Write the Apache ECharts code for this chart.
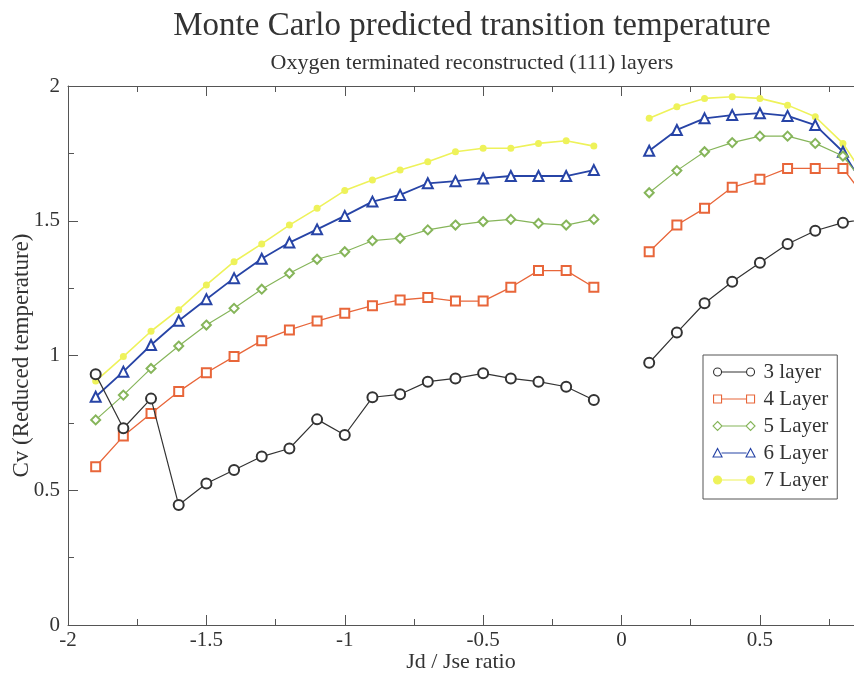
<!DOCTYPE html>
<html>
<head>
<meta charset="utf-8">
<script src="https://cdn.jsdelivr.net/npm/echarts@6/dist/echarts.min.js"></script>
<style>
html,body{margin:0;padding:0;background:#fff;}
#c{width:854px;height:677px;}
</style>
</head>
<body>
<div id="c"></div>
<script>
// ---- data ----
const xValues = [-1.9,-1.8,-1.7,-1.6,-1.5,-1.4,-1.3,-1.2,-1.1,-1.0,-0.9,-0.8,-0.7,-0.6,-0.5,-0.4,-0.3,-0.2,-0.1,
                 0.0,
                 0.1,0.2,0.3,0.4,0.5,0.6,0.7,0.8,0.9];
const seriesNames = ['3 layer','4 Layer','5 Layer','6 Layer','7 Layer'];
const layer3 = [0.93,0.73,0.84,0.445,0.525,0.575,0.625,0.655,0.763,0.705,0.845,0.856,0.903,0.915,0.934,0.915,0.903,0.884,0.835,
                null,
                0.973,1.085,1.194,1.274,1.344,1.414,1.463,1.493,1.51];
const layer4 = [0.587,0.701,0.785,0.866,0.936,0.996,1.055,1.095,1.128,1.157,1.185,1.206,1.215,1.202,1.202,1.253,1.315,1.315,1.253,
                null,
                1.385,1.484,1.546,1.624,1.654,1.694,1.694,1.694,1.56];
const layer5 = [0.761,0.853,0.952,1.035,1.113,1.175,1.246,1.305,1.357,1.385,1.426,1.435,1.466,1.484,1.497,1.505,1.49,1.484,1.505,
                null,
                1.604,1.686,1.756,1.79,1.814,1.814,1.787,1.74,1.61];
const layer6 = [0.847,0.94,1.039,1.129,1.209,1.287,1.359,1.419,1.468,1.518,1.571,1.596,1.639,1.647,1.657,1.666,1.666,1.666,1.688,
                null,
                1.76,1.837,1.88,1.892,1.899,1.889,1.855,1.756,1.59];
const layer7 = [0.905,0.996,1.09,1.17,1.262,1.348,1.414,1.484,1.546,1.612,1.651,1.688,1.719,1.756,1.769,1.769,1.787,1.797,1.777,
                null,
                1.88,1.923,1.954,1.96,1.954,1.929,1.886,1.787,1.63];
const xTitle = 'Jd / Jse ratio';
const yTitle = 'Cv (Reduced temperature)';
const mainTitle = 'Monte Carlo predicted transition temperature';
const subTitle = 'Oxygen terminated reconstructed (111) layers';

// ---- styles ----
const FONT = '"Liberation Serif","DejaVu Serif",serif';
const colors = ['#333333','#e8663a','#86b55a','#2744a6','#eef25a'];
const symbols = ['emptyCircle','emptyRect','emptyDiamond','emptyTriangle','circle'];
const symbolSizes = [10,9,9,10,7];
const lineWidths = [1.2,1.3,1.2,1.8,1.6];

const circ = (cx) => `M${cx-4},5 A4,4 0 1,1 ${cx+4},5 A4,4 0 1,1 ${cx-4},5 Z`;
const rectP = (cx) => `M${cx-4},1 L${cx+4},1 L${cx+4},9 L${cx-4},9 Z`;
const diam = (cx) => `M${cx},0.5 L${cx+4.5},5 L${cx},9.5 L${cx-4.5},5 Z`;
const tri = (cx) => `M${cx},0.5 L${cx+4.5},9 L${cx-4.5},9 Z`;
const shapes = [circ, rectP, diam, tri, circ];
function iconPath(i){
  const s = shapes[i];
  return 'path://' + 'M0,0 M43,10 ' + s(5) + ' M9,5 L34,5 ' + s(38);
}

const allData = [layer3, layer4, layer5, layer6, layer7];
const series = allData.map((ys, i) => ({
  name: seriesNames[i],
  type: 'line',
  data: xValues.map((x, k) => [x, ys[k] === null ? '-' : ys[k]]),
  connectNulls: false,
  symbol: symbols[i],
  symbolSize: symbolSizes[i],
  showAllSymbol: true,
  clip: true,
  z: 10 - i,
  lineStyle: {color: colors[i], width: lineWidths[i]},
  itemStyle: {color: colors[i], borderColor: colors[i], borderWidth: i===4 ? 0 : 1.2},
  emphasis: {disabled: true},
  animation: false
}));

const legendData = seriesNames.map((n, i) => ({
  name: n,
  icon: iconPath(i),
  itemStyle: {color: i===4 ? colors[i] : '#ffffff', borderColor: colors[i], borderWidth: 1.1}
}));

const axisCommon = {
  type: 'value',
  axisLine: {show: true, onZero: false, lineStyle: {color: '#555', width: 1}},
  axisTick: {show: true, inside: true, length: 10, lineStyle: {color: '#555'}},
  minorTick: {show: true, splitNumber: 2, length: 6, lineStyle: {color: '#555'}},
  splitLine: {show: false},
  minorSplitLine: {show: false}
};

const chart = echarts.init(document.getElementById('c'), null, {renderer: 'canvas'});
chart.setOption({
  animation: false,
  backgroundColor: '#ffffff',
  title: [{
    text: mainTitle,
    left: 467, top: 5, textAlign: 'center',
    textStyle: {fontFamily: FONT, fontSize: 33, fontWeight: 'normal', color: '#333'},
  }, {
    text: subTitle,
    left: 467, top: 47, textAlign: 'center',
    textStyle: {fontFamily: FONT, fontSize: 22, fontWeight: 'normal', color: '#333'}
  }],
  grid: {left: 68, right: 0, top: 86, bottom: 52, containLabel: false, outerBoundsMode: 'none'},
  legend: {
    orient: 'vertical',
    left: 703, top: 355,
    padding: [6, 9, 8, 9],
    itemWidth: 43, itemHeight: 10,
    itemGap: 5,
    borderColor: '#555', borderWidth: 1, borderRadius: 0,
    backgroundColor: '#fff',
    selectedMode: false,
    textStyle: {fontFamily: FONT, fontSize: 21, color: '#333', lineHeight: 22, padding: [0,0,0,3]},
    data: legendData
  },
  xAxis: [Object.assign({}, axisCommon, {
    position: 'bottom',
    min: -2, max: 0.84, interval: 0.5,
    name: xTitle, nameLocation: 'middle', nameGap: 26, nameMoveOverlap: false,
    nameTextStyle: {fontFamily: FONT, fontSize: 22, color: '#333'},
    axisLabel: {fontFamily: FONT, fontSize: 21, color: '#333', margin: 5,
      showMaxLabel: false}
  }), Object.assign({}, axisCommon, {
    position: 'top',
    min: -2, max: 0.84, interval: 0.5,
    axisLabel: {show: false}
  })],
  yAxis: [Object.assign({}, axisCommon, {
    position: 'left',
    min: 0, max: 2, interval: 0.5,
    name: yTitle, nameLocation: 'middle', nameGap: 35, nameRotate: 90, nameMoveOverlap: false,
    nameTextStyle: {fontFamily: FONT, fontSize: 23, color: '#333'},
    axisLabel: {fontFamily: FONT, fontSize: 21, color: '#333', margin: 8}
  })],
  series: series
});
</script>
</body>
</html>
